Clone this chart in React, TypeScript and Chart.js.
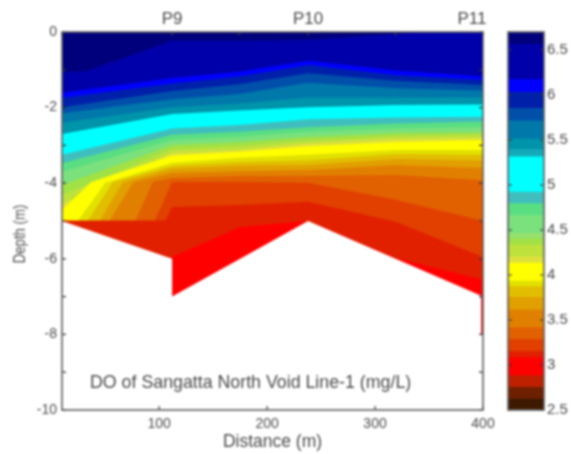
import React, { useEffect, useRef } from "react";
import { Chart, registerables } from "chart.js";

Chart.register(...registerables);

const FONT = "'Liberation Sans', Arial, sans-serif";
const TEXT = "#4a4a4a";
const FRAME = "#5f5f5f";

// sampling stations along the line (m)
const stationX = [10, 112, 174, 238, 319, 400];
const topTickX = [10, 112, 174, 238, 319, 400];
const topLabelX = [112, 238, 400];
const topLabels = ["P9", "P10", "P11"];
const topLabelShift = [0, 0, -11];
const xTickValues = [100, 200, 300, 400];
const yTickValues = [-10, -9, -8, -7, -6, -5, -4, -3, -2, -1, 0];
const barTickValues = [2.5, 3, 3.5, 4, 4.5, 5, 5.5, 6, 6.5];

const chartNote = "DO of Sangatta North Void Line-1 (mg/L)";
const xTitle = "Distance (m)";
const yTitle = "Depth (m)";

// contour boundaries: depth (m) of the upper edge of each band
const surfaceX = [10, 400];
const surfaceD = [0, 0];
const b1X = [10, 33, 112, 174, 238, 319, 350, 400];
const b1D = [-1.08, -1.03, -0.23, -0.23, -0.21, -0.05, 0, 0];
const b2D = [-1.61, -1.22, -1.05, -0.76, -1.02, -1.18];
const b3D = [-1.74, -1.36, -1.18, -0.87, -1.14, -1.27];
const b4D = [-1.99, -1.56, -1.38, -1.09, -1.29, -1.4];
const b5D = [-2.15, -1.78, -1.64, -1.34, -1.49, -1.55];
const b6D = [-2.4, -1.99, -1.89, -1.73, -1.73, -1.73];
const b7D = [-2.7, -2.17, -2.08, -1.99, -1.93, -1.92];
const b8D = [-3.25, -2.55, -2.46, -2.31, -2.26, -2.24];
const b9D = [-3.47, -2.72, -2.64, -2.52, -2.42, -2.37];
const b10D = [-3.7, -2.86, -2.77, -2.64, -2.55, -2.51];
const b11D = [-4.05, -2.99, -2.91, -2.78, -2.67, -2.65];
const b12D = [-4.31, -3.1, -3.02, -2.88, -2.75, -2.72];
const b13D = [-4.55, -3.2, -3.12, -2.94, -2.83, -2.8];
const b14X = [10, 37, 112, 174, 238, 319, 400];
const b14D = [-4.71, -3.97, -3.27, -3.17, -3.02, -2.91, -2.86];
const b15X = [25, 50, 112, 174, 238, 319, 400];
const b15D = [-4.99, -3.99, -3.46, -3.33, -3.25, -3.12, -3.12];
const b16X = [34, 57, 112, 174, 238, 319, 400];
const b16D = [-4.99, -3.97, -3.54, -3.44, -3.39, -3.23, -3.25];
const b17X = [45, 66.5, 112, 174, 238, 319, 400];
const b17D = [-4.99, -3.97, -3.62, -3.54, -3.52, -3.36, -3.4];
const b18X = [54, 76, 112, 174, 238, 319, 400];
const b18D = [-4.99, -3.97, -3.73, -3.68, -3.65, -3.52, -3.6];
const b19X = [78, 94, 112, 174, 238, 319, 400];
const b19D = [-4.99, -3.97, -3.86, -3.81, -3.81, -3.78, -3.92];
const b20X = [96, 112, 174, 238, 319, 400];
const b20D = [-4.99, -3.97, -3.97, -3.99, -4.44, -5.0];
const b21X = [10, 106, 112, 174, 238, 319, 400];
const b21D = [-4.99, -4.99, -4.63, -4.58, -4.49, -5.02, -5.95];
const b22X = [112, 175, 238, 319, 400];
const b22D = [-5.95, -5.16, -5.0, -5.98, -6.56];
// lake bed: below it there is no data
const bedX = [10, 112, 112, 238, 400];
const bedD = [-5, -6, -7, -5, -7];
const edgeX = [399.2, 399.2];
const edgeD = [-7, -8];

const plotBands: [number[], number[], string][] = [
  [surfaceX, surfaceD, "rgb(0,0,125)"],
  [b1X, b1D, "rgb(0,0,170)"],
  [stationX, b2D, "rgb(0,0,255)"],
  [stationX, b3D, "rgb(0,32,170)"],
  [stationX, b4D, "rgb(0,80,170)"],
  [stationX, b5D, "rgb(0,120,170)"],
  [stationX, b6D, "rgb(0,148,170)"],
  [stationX, b7D, "rgb(0,255,255)"],
  [stationX, b8D, "rgb(64,190,190)"],
  [stationX, b9D, "rgb(90,222,130)"],
  [stationX, b10D, "rgb(122,225,125)"],
  [stationX, b11D, "rgb(160,225,70)"],
  [stationX, b12D, "rgb(190,225,60)"],
  [stationX, b13D, "rgb(222,225,60)"],
  [b14X, b14D, "rgb(255,255,0)"],
  [b15X, b15D, "rgb(225,225,0)"],
  [b16X, b16D, "rgb(225,190,0)"],
  [b17X, b17D, "rgb(225,160,0)"],
  [b18X, b18D, "rgb(225,128,0)"],
  [b19X, b19D, "rgb(225,96,0)"],
  [b20X, b20D, "rgb(225,64,0)"],
  [b21X, b21D, "rgb(225,32,0)"],
  [b22X, b22D, "rgb(255,0,0)"],
  [bedX, bedD, "#ffffff"],
];

// colour bar
const barEdges = [6.7, 6.57, 6.18, 6.04, 5.86, 5.72, 5.52, 5.4, 5.32, 4.93, 4.8, 4.67, 4.47, 4.41, 4.34, 4.21, 4.14, 3.94, 3.88, 3.76, 3.62, 3.42, 3.29, 3.16, 3.09, 2.89, 2.76, 2.63, 2.5];
const barColors = [
  "rgb(0,0,125)", "rgb(0,0,170)", "rgb(0,0,255)", "rgb(0,32,170)", "rgb(0,80,170)", "rgb(0,120,170)", "rgb(0,148,170)", "rgb(20,170,185)",
  "rgb(0,255,255)", "rgb(64,190,190)", "rgb(90,222,130)", "rgb(122,225,125)", "rgb(150,225,110)", "rgb(160,225,70)", "rgb(190,225,60)", "rgb(222,225,60)",
  "rgb(255,255,0)", "rgb(225,225,0)", "rgb(225,190,0)", "rgb(225,160,0)", "rgb(225,128,0)", "rgb(225,96,0)", "rgb(225,64,0)", "rgb(225,32,0)",
  "rgb(255,0,0)", "rgb(190,32,0)", "rgb(110,32,0)", "rgb(60,25,0)",
];

const toPoints = (xs: number[], ds: number[]) => xs.map((x, i) => ({ x, y: ds[i] }));

const plotDecor = {
  id: "plotDecor",
  afterDatasetsDraw(chart: any) {
    const { ctx, chartArea: a, scales } = chart;
    const { x, y } = scales;
    ctx.save();
    ctx.strokeStyle = "#333333";
    ctx.lineWidth = 1.2;
    ctx.beginPath();
    xTickValues.forEach((v) => {
      const p = x.getPixelForValue(v);
      ctx.moveTo(p, a.bottom);
      ctx.lineTo(p, a.bottom - 4);
    });
    topTickX.forEach((v) => {
      const p = x.getPixelForValue(v);
      ctx.moveTo(p, a.top);
      ctx.lineTo(p, a.top + 4);
    });
    yTickValues.forEach((v) => {
      const p = y.getPixelForValue(v);
      ctx.moveTo(a.left, p);
      ctx.lineTo(a.left + 4, p);
      ctx.moveTo(a.right, p);
      ctx.lineTo(a.right - 4, p);
    });
    ctx.stroke();
    ctx.strokeStyle = FRAME;
    ctx.lineWidth = 1.6;
    ctx.strokeRect(a.left, a.top, a.right - a.left, a.bottom - a.top);

    ctx.fillStyle = TEXT;
    ctx.textBaseline = "middle";
    ctx.textAlign = "center";
    ctx.font = `17px ${FONT}`;
    topLabels.forEach((t, i) => {
      ctx.fillText(t, x.getPixelForValue(topLabelX[i]) + topLabelShift[i], 19);
    });
    ctx.textAlign = "left";
    ctx.font = `17.8px ${FONT}`;
    ctx.fillText(chartNote, 90, 383);
    ctx.translate(20, 234);
    ctx.rotate(-Math.PI / 2);
    ctx.scale(0.8, 1);
    ctx.textAlign = "center";
    ctx.font = `16.5px ${FONT}`;
    ctx.fillText(yTitle, 0, 0);
    ctx.restore();
  },
};

const barDecor = {
  id: "barDecor",
  afterDatasetsDraw(chart: any) {
    const { ctx, chartArea: a, scales } = chart;
    ctx.save();
    ctx.strokeStyle = "#333333";
    ctx.lineWidth = 1.2;
    ctx.beginPath();
    barTickValues.forEach((v) => {
      const p = scales.y.getPixelForValue(v);
      ctx.moveTo(a.left, p);
      ctx.lineTo(a.left + 4, p);
      ctx.moveTo(a.right, p);
      ctx.lineTo(a.right - 4, p);
    });
    ctx.stroke();
    ctx.strokeStyle = FRAME;
    ctx.lineWidth = 1.6;
    ctx.strokeRect(a.left, a.top, a.right - a.left, a.bottom - a.top);
    ctx.restore();
  },
};

export default function App() {
  const plotRef = useRef<HTMLCanvasElement>(null);
  const barRef = useRef<HTMLCanvasElement>(null);

  useEffect(() => {
    const plot = new Chart(plotRef.current as any, {
      type: "line",
      data: {
        datasets: [
          ...plotBands.map(([xs, ds, color], i) => ({
            data: toPoints(xs, ds),
            backgroundColor: color,
            borderWidth: 0,
            pointRadius: 0,
            tension: 0,
            fill: "start",
            order: -i,
          })),
          {
            data: toPoints(edgeX, edgeD),
            borderColor: "rgb(255,0,0)",
            borderWidth: 2,
            pointRadius: 0,
            fill: false,
            order: -100,
          },
        ],
      } as any,
      plugins: [plotDecor as any],
      options: {
        responsive: false,
        animation: false,
        layout: { padding: { left: 0, right: 88, top: 32, bottom: 0 } },
        plugins: { legend: { display: false }, tooltip: { enabled: false } },
        scales: {
          x: {
            type: "linear",
            position: "bottom",
            min: 10,
            max: 400,
            grid: { display: false, drawTicks: false },
            border: { display: false },
            afterBuildTicks: (s: any) => {
              s.ticks = xTickValues.map((value) => ({ value }));
            },
            afterFit: (s: any) => {
              s.height = 44;
              s.paddingRight = 0;
              s.paddingLeft = 0;
            },
            ticks: {
              maxRotation: 0,
              autoSkip: false,
              padding: 6,
              color: TEXT,
              font: { family: FONT, size: 14 },
              callback: (v: any) => String(v),
            },
            title: {
              display: true,
              text: xTitle,
              color: TEXT,
              font: { family: FONT, size: 17.5 },
              padding: { top: 0, bottom: 1 },
            },
          },
          y: {
            type: "linear",
            position: "left",
            min: -10,
            max: 0,
            grid: { display: false, drawTicks: false },
            border: { display: false },
            afterBuildTicks: (s: any) => {
              s.ticks = yTickValues.map((value) => ({ value }));
            },
            afterFit: (s: any) => {
              s.width = 62;
              s.paddingTop = 0;
              s.paddingBottom = 0;
            },
            ticks: {
              autoSkip: false,
              padding: 5,
              color: TEXT,
              font: { family: FONT, size: 14 },
              callback: (v: any) => (Number(v) % 2 === 0 ? String(v) : ""),
            },
          },
        },
      } as any,
    });

    const bar = new Chart(barRef.current as any, {
      type: "bar",
      data: {
        labels: ["DO"],
        datasets: barColors.map((color, i) => ({
          data: [[barEdges[i + 1], barEdges[i]]],
          backgroundColor: color,
          borderWidth: 0,
          barPercentage: 1,
          categoryPercentage: 1,
          grouped: false,
        })),
      } as any,
      plugins: [barDecor as any],
      options: {
        responsive: false,
        animation: false,
        layout: { padding: { left: 508, right: 0, top: 32, bottom: 44 } },
        plugins: { legend: { display: false }, tooltip: { enabled: false } },
        scales: {
          x: { display: false, grid: { display: false } },
          y: {
            position: "right",
            min: 2.5,
            max: 6.7,
            grid: { display: false, drawTicks: false },
            border: { display: false },
            afterBuildTicks: (s: any) => {
              s.ticks = barTickValues.map((value) => ({ value }));
            },
            afterFit: (s: any) => {
              s.width = 27;
              s.paddingTop = 0;
              s.paddingBottom = 0;
            },
            ticks: {
              autoSkip: false,
              padding: 3,
              color: TEXT,
              font: { family: FONT, size: 15 },
              callback: (v: any) => String(v),
            },
          },
        },
      } as any,
    });

    return () => {
      plot.destroy();
      bar.destroy();
    };
  }, []);

  const layer: React.CSSProperties = { position: "absolute", left: 0, top: 0, display: "block" };
  return (
    <div style={{ position: "absolute", left: 0, top: 0, width: 571, height: 454, overflow: "hidden", background: "#fff", filter: "blur(0.8px)" }}>
      <canvas ref={plotRef} width={571} height={454} style={layer} />
      <canvas ref={barRef} width={571} height={454} style={layer} />
    </div>
  );
}
